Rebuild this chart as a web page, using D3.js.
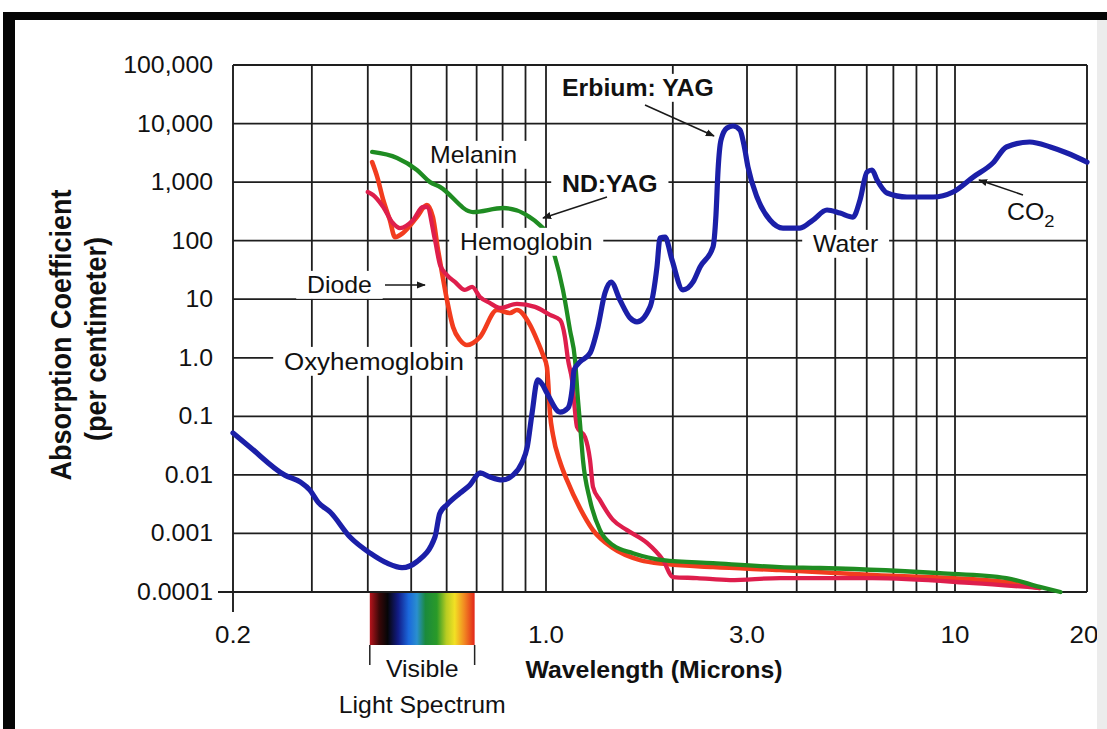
<!DOCTYPE html>
<html>
<head>
<meta charset="utf-8">
<script src="https://cdn.jsdelivr.net/npm/d3@7"></script>
<style>
  body { margin: 0; background: #fff; }
  text { font-family: "Liberation Sans", Arial, Helvetica, sans-serif; fill: #111; }
</style>
</head>
<body>
<div id="chart"></div>
<script>
// Water (blue)
const waterWl = [0.2, 0.218, 0.261, 0.283, 0.297, 0.31, 0.33, 0.365, 0.405, 0.442, 0.477, 0.515, 0.565, 0.579, 0.601, 0.643, 0.676, 0.713, 0.75, 0.798, 0.844, 0.883, 0.908, 0.931, 0.958, 0.98, 1.005, 1.08, 1.128, 1.153, 1.166, 1.204, 1.272, 1.328, 1.38, 1.427, 1.498, 1.583, 1.644, 1.766, 1.834, 1.865, 1.917, 1.991, 2.114, 2.234, 2.321, 2.491, 2.532, 2.561, 2.603, 2.689, 2.779, 2.887, 2.951, 3.017, 3.178, 3.427, 3.695, 4.076, 4.395, 4.767, 5.138, 5.541, 5.77, 6.009, 6.186, 6.368, 6.748, 7.574, 8.805, 9.886, 11.0, 12.2, 13.1, 14.8, 16.5, 18.0, 20.0];
const waterAbs = [0.052, 0.03, 0.0099, 0.0075, 0.0055, 0.0034, 0.0023, 0.00087, 0.00046, 0.00031, 0.00026, 0.00033, 0.00087, 0.0022, 0.0031, 0.0049, 0.0067, 0.0108, 0.0092, 0.0082, 0.0099, 0.016, 0.03, 0.114, 0.42, 0.356, 0.25, 0.118, 0.139, 0.28, 0.62, 0.85, 1.2, 3.35, 12.8, 19.7, 9.7, 4.8, 4.1, 7.4, 35.5, 111, 115, 47, 14.4, 19.7, 35.5, 78, 274, 1610, 5240, 8400, 9080, 7760, 4300, 1810, 557, 225, 164, 164, 225, 334, 296, 253, 495, 1490, 1610, 1090, 652, 557, 557, 678, 1220, 2120, 3980, 4840, 3980, 3140, 2200];

// Melanin (green)
const melaninWl = [0.409, 0.465, 0.515, 0.551, 0.58, 0.687, 0.802, 0.985, 1.05, 1.097, 1.14, 1.172, 1.191, 1.204, 1.224, 1.272, 1.343, 1.442, 1.609, 1.896, 2.491, 3.633, 4.577, 9.17, 13.1, 15.6, 17.4];
const melaninAbs = [3270, 2580, 1610, 1000, 825, 308, 361, 164, 52.6, 14.4, 2.98, 0.92, 0.19, 0.077, 0.018, 0.0037, 0.00114, 0.00063, 0.00046, 0.00035, 0.00031, 0.000267, 0.000257, 0.00021, 0.000173, 0.000122, 0.0001];

// Oxyhemoglobin (orange red)
const oxyWl = [0.409, 0.42, 0.433, 0.448, 0.46, 0.479, 0.515, 0.542, 0.559, 0.574, 0.586, 0.601, 0.62, 0.643, 0.666, 0.712, 0.777, 0.831, 0.861, 0.921, 0.955, 0.985, 1.005, 1.011, 1.022, 1.039, 1.08, 1.121, 1.204, 1.293, 1.442, 1.672, 1.937, 2.491, 3.633, 6.22, 13.1, 15.6];
const oxyAbs = [2200, 1220, 495, 225, 115, 135, 253, 406, 253, 69, 28, 9.7, 3.35, 2.0, 1.65, 2.26, 6.55, 5.81, 6.55, 3.63, 2.0, 1.11, 0.695, 0.417, 0.114, 0.048, 0.0166, 0.0082, 0.0027, 0.00114, 0.00056, 0.00035, 0.0003, 0.000267, 0.000237, 0.000195, 0.000148, 0.000117];

// Hemoglobin (crimson)
const hemoWl = [0.4, 0.411, 0.433, 0.455, 0.472, 0.505, 0.531, 0.542, 0.565, 0.58, 0.601, 0.626, 0.659, 0.684, 0.712, 0.75, 0.789, 0.861, 0.945, 1.022, 1.08, 1.109, 1.128, 1.153, 1.185, 1.238, 1.272, 1.293, 1.343, 1.442, 1.557, 1.737, 1.896, 2.002, 2.283, 2.734, 3.633, 6.22, 11.0, 15.6];
const hemoAbs = [678, 603, 376, 200, 164, 225, 376, 376, 103, 38.4, 25.9, 19.7, 14.4, 16.2, 10.9, 8.6, 7.1, 8.3, 7.4, 5.4, 4.4, 2.26, 0.92, 0.42, 0.066, 0.044, 0.018, 0.0062, 0.0037, 0.0017, 0.00114, 0.00069, 0.00035, 0.00018, 0.000173, 0.00016, 0.000173, 0.000173, 0.000142, 0.000117];

// axes
const yTicks = [1e5, 1e4, 1e3, 100, 10, 1, 0.1, 0.01, 0.001, 0.0001];
const yTickLabels = ["100,000", "10,000", "1,000", "100", "10", "1.0", "0.1", "0.01", "0.001", "0.0001"];
const xGrid = [0.3, 0.4, 0.5, 0.6, 0.7, 0.8, 0.9, 1, 2, 3, 4, 5, 6, 7, 8, 9, 10];
const xTicks = [0.2, 1, 3, 10, 20];
const xTickLabels = ["0.2", "1.0", "3.0", "10", "20"];
const visibleRange = [0.4, 0.7];

const W = 1107, H = 729;
const pl = 233, pr = 1087, pt = 65, pb = 592;
const SX = 1.08; // scanned text is a little wide

const svg = d3.select("#chart").append("svg")
   .attr("width", W)
   .attr("height", H);

// the scale is not a clean log scale in the print, so it is pinned at the labelled ticks
const x = d3.scaleLog()
   .domain([0.2, 1, 3, 10, 20])
   .range([pl, 546, 747, 955, pr]);

const y = d3.scaleLog()
   .domain([1e-4, 1e5])
   .range([pb, pt]);

const gridLayer = svg.append("g");
const boxUnder = svg.append("g");
const curveLayer = svg.append("g");
const boxOver = svg.append("g");
const textLayer = svg.append("g");
const arrowLayer = svg.append("g");

// page frame
svg.append("rect").attr("x", 8).attr("y", 12).attr("width", W - 8).attr("height", 8).attr("fill", "#050505");
svg.append("rect").attr("x", 3).attr("y", 12).attr("width", 12).attr("height", H - 12).attr("fill", "#050505");
svg.append("rect").attr("x", 1097).attr("y", 20).attr("width", 10).attr("height", H - 20).attr("fill", "#ececec");

// grid
gridLayer.selectAll(".hgrid")
   .data(yTicks)
   .enter()
   .append("line")
   .attr("x1", d => d === 1e-4 ? pl - 15 : pl)
   .attr("x2", pr)
   .attr("y1", d => y(d))
   .attr("y2", d => y(d))
   .attr("stroke", "#1e1e1e")
   .attr("stroke-width", 1.8);

gridLayer.selectAll(".vgrid")
   .data(xGrid)
   .enter()
   .append("line")
   .attr("x1", d => x(d))
   .attr("x2", d => x(d))
   .attr("y1", pt)
   .attr("y2", pb)
   .attr("stroke", "#1e1e1e")
   .attr("stroke-width", 1.8);

gridLayer.append("line")
   .attr("x1", pl).attr("x2", pl)
   .attr("y1", pt).attr("y2", pb + 20)
   .attr("stroke", "#1e1e1e").attr("stroke-width", 1.9);
gridLayer.append("line")
   .attr("x1", pr).attr("x2", pr)
   .attr("y1", pt).attr("y2", pb)
   .attr("stroke", "#1e1e1e").attr("stroke-width", 1.9);

// tick labels
yTicks.forEach((d, i) => {
   textLayer.append("text")
      .attr("transform", `translate(213,${y(d) + 8}) scale(${SX},1)`)
      .attr("text-anchor", "end")
      .style("font-size", "23px")
      .text(yTickLabels[i]);
});
xTicks.forEach((d, i) => {
   textLayer.append("text")
      .attr("transform", `translate(${x(d) - (d === 20 ? 3 : 0)},643) scale(${SX},1)`)
      .attr("text-anchor", "middle")
      .style("font-size", "24px")
      .text(xTickLabels[i]);
});

// axis titles
[["Absorption Coefficient", 71, 335], ["(per centimeter)", 106, 339]].forEach(t => {
   textLayer.append("text")
      .attr("transform", `translate(${t[1]},${t[2]}) scale(${SX},1) rotate(-90)`)
      .attr("text-anchor", "middle")
      .style("font-size", "27px")
      .style("font-weight", "bold")
      .text(t[0]);
});
textLayer.append("text")
   .attr("transform", `translate(654,678) scale(${SX},1)`)
   .attr("text-anchor", "middle")
   .style("font-size", "23px")
   .style("font-weight", "bold")
   .text("Wavelength (Microns)");

// visible light spectrum strip
const defs = svg.append("defs");
const grad = defs.append("linearGradient").attr("id", "spectrum");
[[0, "#b8141c"], [0.09, "#3a0808"], [0.17, "#060608"], [0.27, "#121c86"], [0.37, "#1b68dc"], [0.45, "#2a8fcf"], [0.53, "#1a8a3c"], [0.64, "#2a9a28"], [0.73, "#b8cc22"], [0.81, "#f2e024"], [0.9, "#f28a22"], [1, "#e2261a"]]
   .forEach(s => grad.append("stop").attr("offset", s[0]).attr("stop-color", s[1]));

const vx0 = x(visibleRange[0]) + 2, vx1 = x(visibleRange[1]) - 2;
svg.append("rect")
   .attr("x", vx0).attr("y", pb + 1)
   .attr("width", vx1 - vx0).attr("height", 52)
   .attr("fill", "url(#spectrum)");
[vx0, vx1].forEach(v => {
   svg.append("line")
      .attr("x1", v).attr("x2", v)
      .attr("y1", pb + 53).attr("y2", pb + 73)
      .attr("stroke", "#222").attr("stroke-width", 1.5);
});
[["Visible", 677], ["Light Spectrum", 713]].forEach(t => {
   textLayer.append("text")
      .attr("transform", `translate(${(vx0 + vx1) / 2},${t[1]}) scale(${SX},1)`)
      .attr("text-anchor", "middle")
      .style("font-size", "23px")
      .text(t[0]);
});

// curves
const line = d3.line()
   .x(d => x(d[0]))
   .y(d => y(d[1]))
   .curve(d3.curveMonotoneX);

const series = [
   [oxyWl, oxyAbs, "#f23c1e", 4.6],
   [hemoWl, hemoAbs, "#de1e4c", 4.3],
   [melaninWl, melaninAbs, "#1f8c22", 4.3],
   [waterWl, waterAbs, "#1b1fa8", 5.2]
];
series.forEach(s => {
   curveLayer.append("path")
      .datum(s[0].map((w, i) => [w, s[1][i]]))
      .attr("fill", "none")
      .attr("stroke", s[2])
      .attr("stroke-width", s[3])
      .attr("stroke-linejoin", "round")
      .attr("stroke-linecap", "round")
      .attr("d", line);
});

// labels with white knock-out boxes
function label(px, py, s, opt) {
   const g = textLayer.append("g").attr("transform", `translate(${px},${py}) scale(${SX},1)`);
   const t = g.append("text")
      .style("font-size", (opt.size || 23) + "px")
      .style("font-weight", opt.bold ? "bold" : "normal")
      .text(s);
   if (opt.box) {
      const b = t.node().getBBox();
      (opt.over ? boxOver : boxUnder).append("rect")
         .attr("transform", `translate(${px},${py}) scale(${SX},1)`)
         .attr("x", b.x - 10).attr("y", b.y - 1)
         .attr("width", b.width + 20).attr("height", b.height + 2)
         .attr("fill", "#fff");
   }
   return t;
}

label(562, 96, "Erbium: YAG", { bold: true, box: true });
label(430, 163, "Melanin", { box: true });
label(562, 192, "ND:YAG", { bold: true, box: true });
label(460, 250, "Hemoglobin", { box: true, over: true });
label(813, 252, "Water", { box: true });
label(307, 293, "Diode", { box: true });
label(284, 370, "Oxyhemoglobin", { box: true, size: 24 });
const co2 = label(1007, 220, "CO", {});
co2.append("tspan").attr("dy", 7).style("font-size", "17px").text("2");

// arrows
defs.append("marker")
   .attr("id", "head")
   .attr("viewBox", "0 0 10 10")
   .attr("refX", 9).attr("refY", 5)
   .attr("markerWidth", 9).attr("markerHeight", 9)
   .attr("markerUnits", "userSpaceOnUse")
   .attr("orient", "auto")
   .append("path").attr("d", "M0,1 L10,5 L0,9 Z").attr("fill", "#1a1a1a");
[[385, 285, 425, 285], [607, 197, 543, 218], [645, 105, 714, 136], [1023, 195, 979, 180]].forEach(a => {
   arrowLayer.append("line")
      .attr("x1", a[0]).attr("y1", a[1])
      .attr("x2", a[2]).attr("y2", a[3])
      .attr("stroke", "#1a1a1a").attr("stroke-width", 1.5)
      .attr("marker-end", "url(#head)");
});
</script>
</body>
</html>
